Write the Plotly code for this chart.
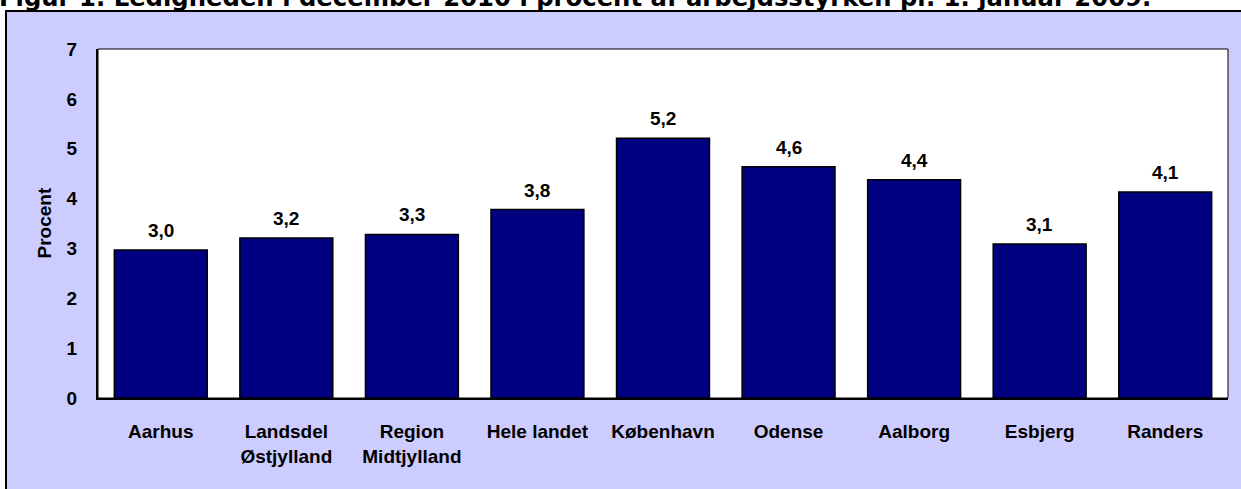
import plotly.graph_objects as go

categories = ["Aarhus", "Landsdel<br>Østjylland", "Region<br>Midtjylland", "Hele landet",
              "København", "Odense", "Aalborg", "Esbjerg", "Randers"]
values = [2.97, 3.21, 3.28, 3.78, 5.21, 4.64, 4.38, 3.09, 4.13]
labels = [f"{v:.1f}".replace(".", ",") for v in values]
y_ticks = [0, 1, 2, 3, 4, 5, 6, 7]
title_text = "Figur 1. Ledigheden i december 2010 i procent af arbejdsstyrken pr. 1. januar 2009."

W, H = 1241, 489
L, R, T, B = 98, 13, 49, 91
pw, ph = W - L - R, H - T - B

def px(x):
    return (x - L) / pw

def py(y):
    return (H - B - y) / ph

lab_font = dict(family="Arial, Liberation Sans, sans-serif", size=19, color="black", weight="bold")

fig = go.Figure()
fig.add_trace(go.Bar(
    x=categories, y=values, cliponaxis=False,
    marker=dict(color="#000080", line=dict(color="black", width=1.5)),
    hoverinfo="x+y",
))

annotations = [
    dict(x=c, y=v, text=t, xref="x", yref="y", showarrow=False,
         xanchor="center", yanchor="bottom", yshift=7, font=lab_font)
    for c, v, t in zip(categories, values, labels)
]
annotations += [
    dict(text="Procent", xref="paper", yref="paper", x=px(44), y=0.5,
         textangle=-90, showarrow=False, xanchor="center", yanchor="middle", font=lab_font),
    dict(text=title_text, xref="paper", yref="paper", x=px(-3), y=py(14),
         xanchor="left", yanchor="bottom", showarrow=False,
         font=dict(family="Verdana, DejaVu Sans, sans-serif", size=24.3, color="black", weight="bold")),
]

fig.update_layout(
    width=W, height=H,
    margin=dict(l=L, r=R, t=T, b=B, autoexpand=False),
    paper_bgcolor="white", plot_bgcolor="white",
    bargap=0.26, showlegend=False,
    font=lab_font,
    xaxis=dict(showline=True, linecolor="black", linewidth=2, showgrid=False,
               ticks="", tickfont=lab_font, ticklabelstandoff=15, automargin=False),
    yaxis=dict(range=[0, 7], tickvals=y_ticks, showline=True, linecolor="black", linewidth=2,
               showgrid=False, zeroline=False, ticks="", tickfont=lab_font,
               ticklabelstandoff=15, automargin=False),
    shapes=[
        dict(type="rect", xref="paper", yref="paper", layer="below",
             x0=px(6), x1=px(1260), y0=py(520), y1=py(11),
             fillcolor="#CCCCFF", line=dict(color="black", width=2)),
        dict(type="rect", xref="paper", yref="paper", layer="below",
             x0=0, x1=1, y0=0, y1=1, fillcolor="white", line=dict(color="black", width=1)),
    ],
    annotations=annotations,
)

fig.write_html("out.html", config={"displayModeBar": False},
               post_script="document.body.style.margin='0px';document.body.style.overflow='hidden';")
